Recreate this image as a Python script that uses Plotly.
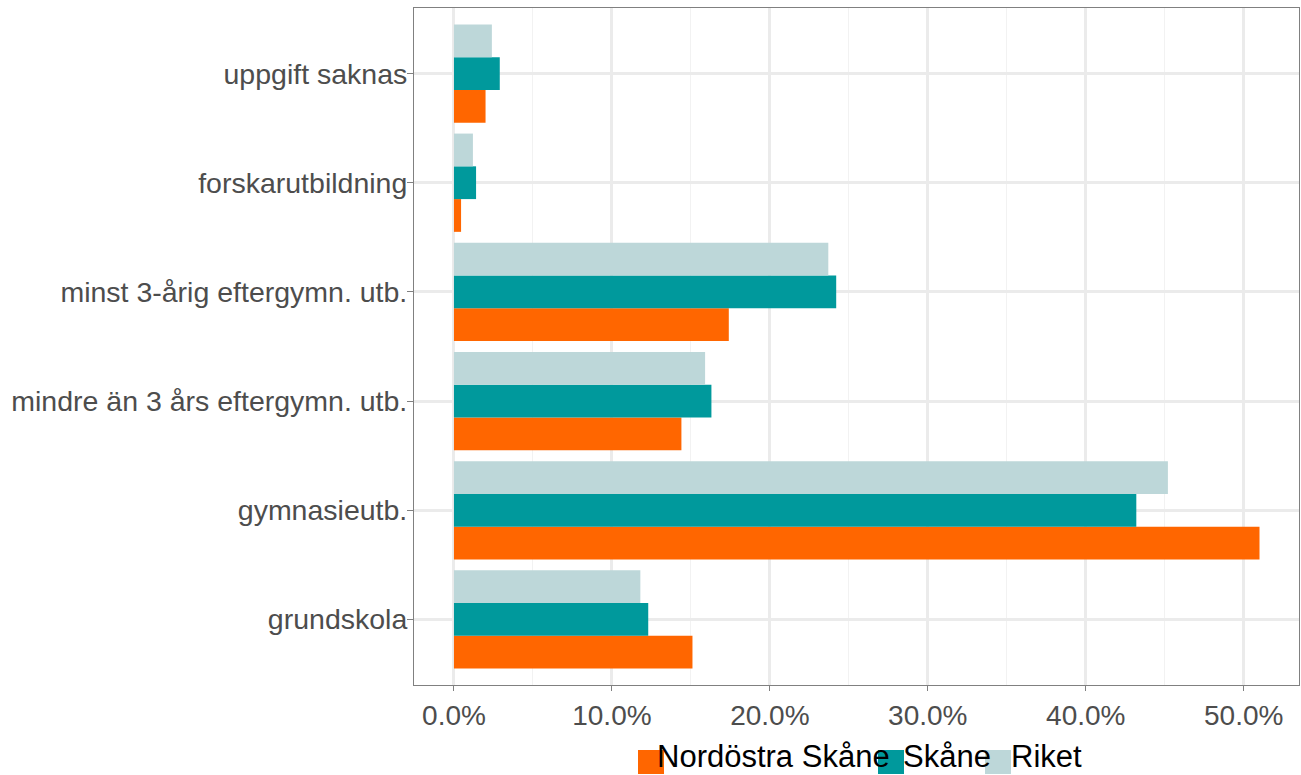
import plotly.graph_objects as go

categories = ["grundskola", "gymnasieutb.", "mindre än 3 års eftergymn. utb.",
              "minst 3-årig eftergymn. utb.", "forskarutbildning", "uppgift saknas"]
series_names = ["Nordöstra Skåne", "Skåne", "Riket"]
nordostra = [0.151, 0.510, 0.144, 0.174, 0.0045, 0.020]
skane = [0.123, 0.432, 0.163, 0.242, 0.014, 0.029]
riket = [0.118, 0.452, 0.159, 0.237, 0.012, 0.024]
colors = ["#FF6600", "#00999C", "#BDD7D9"]
x_ticks = [0, 0.1, 0.2, 0.3, 0.4, 0.5]

W, H = 1301, 775
ML, MR, MT, MB = 414, 2, 8, 90

fig = go.Figure()
for name, vals, col in zip(series_names, [nordostra, skane, riket], colors):
    fig.add_trace(go.Bar(y=categories, x=vals, name=name, orientation="h",
                         marker=dict(color=col, line=dict(width=0)), showlegend=False))

# custom legend below the plot (squares overlapping text, like the reference)
pw = W - ML - MR
ph = H - MT - MB
def px(xp):
    return (xp - ML) / pw
def py(yp):
    return (H - MB - yp) / ph

legend_sq_x = [638, 878, 985]
legend_tx_x = [656, 902, 1010]
for name, col, sx, tx in zip(series_names, colors, legend_sq_x, legend_tx_x):
    fig.add_shape(type="rect", xref="paper", yref="paper",
                  x0=px(sx), x1=px(sx + 26), y0=py(774), y1=py(750),
                  fillcolor=col, line=dict(width=0), layer="below")
    fig.add_annotation(xref="paper", yref="paper", x=px(tx), y=py(757),
                       xanchor="left", yanchor="middle", text=name, showarrow=False,
                       font=dict(size=31, color="black"), borderpad=0)

fig.update_layout(
    width=W, height=H,
    barmode="group", bargap=0.1, bargroupgap=0,
    plot_bgcolor="white", paper_bgcolor="white",
    font=dict(family="Liberation Sans, Arial, sans-serif", size=28, color="#4D4D4D"),
    margin=dict(l=ML, r=MR, t=MT, b=MB, autoexpand=False),
    showlegend=False,
)
fig.update_xaxes(
    range=[-0.0253, 0.535], tickvals=x_ticks, tickformat=".1%",
    showgrid=True, gridcolor="#EBEBEB", gridwidth=2.5,
    minor=dict(showgrid=True, gridcolor="#F2F2F2", gridwidth=1.2, dtick=0.05, tick0=0.05),
    ticks="outside", ticklen=5, tickcolor="#808080", tickwidth=1,
    showline=True, linecolor="#808080", linewidth=1, mirror=True,
    zeroline=False, automargin=False, tickfont=dict(size=28, color="#4D4D4D"),
)
fig.update_yaxes(
    range=[-0.6, 5.6], categoryorder="array", categoryarray=categories,
    showgrid=True, gridcolor="#EBEBEB", gridwidth=2.5,
    ticks="outside", ticklen=6, tickcolor="#808080", tickwidth=1,
    showline=True, linecolor="#808080", linewidth=1, mirror=True,
    automargin=False, ticklabelstandoff=-6,
    tickfont=dict(size=28.5, color="#4D4D4D"),
)
fig.write_html("out.html", config={"displayModeBar": False},
               post_script="document.body.style.margin='0';document.body.style.overflow='hidden';")
